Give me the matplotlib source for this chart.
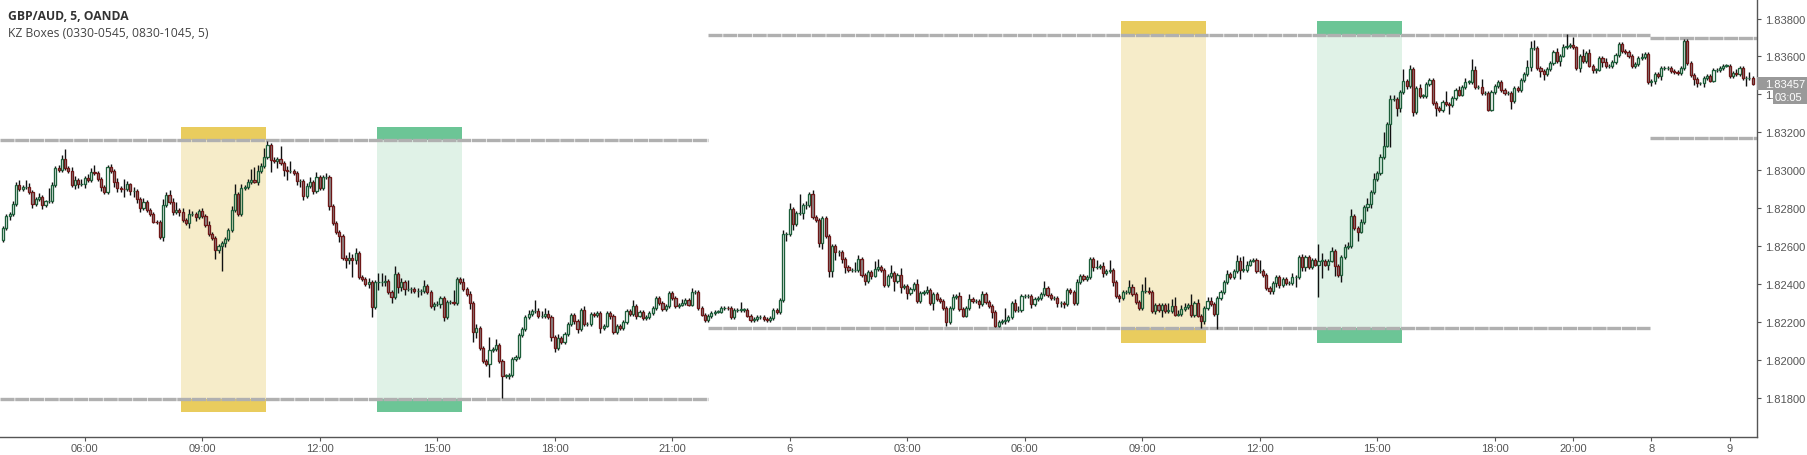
import matplotlib
matplotlib.use("Agg")
import matplotlib.pyplot as plt
from matplotlib.patches import Rectangle
import numpy as np

# ---------------- data (prices in pips above 1.80000) ----------------
first_open_pips = 263.2
close_pips = [
    269.4, 275.7, 277, 282, 292, 290, 291, 291, 288.5, 282,
    285, 286, 281.5, 283.5, 283.5, 292, 301, 300, 306, 301,
    299.5, 292, 295, 292.5, 292.5, 296, 295, 299, 298.5, 295.5,
    291, 288.7, 301.5, 299.5, 294, 290.5, 290.3, 290, 292.5, 289,
    289, 284.7, 280, 283.3, 278.8, 276.7, 272.9, 272.5, 264.6, 281.7,
    286.7, 283.1, 278.1, 279.2, 277.8, 273.6, 272.3, 276.7, 276.7, 275.2,
    278.3, 275.7, 271, 266.2, 264.1, 258.1, 259.8, 261.4, 263.5, 268.6,
    279, 287.5, 276.7, 290.5, 291, 293.6, 294.7, 294, 299.6, 302,
    306.8, 313.3, 305.2, 304.9, 305.8, 303.7, 300, 299.6, 299.7, 298.4,
    294.2, 294.2, 286.2, 291.5, 293.6, 289.2, 296.3, 290.5, 296.3, 296.3,
    281, 272, 267.2, 265.1, 253.5, 252.4, 253.9, 252.5, 256.1, 243.5,
    242.6, 239.8, 241, 227.7, 240.9, 241, 241, 241.7, 235.6, 232.9,
    245.3, 238.2, 241.2, 237.3, 237.3, 237.3, 236.1, 236.1, 236.1, 239,
    235.6, 228.2, 229.2, 229.2, 232.4, 222.4, 230.3, 230.6, 230.1, 242.4,
    241, 237.2, 234.5, 229.9, 214.5, 216.6, 206, 199.5, 197.7, 205.1,
    205.7, 208, 199.5, 191.6, 191.6, 192, 200.4, 201.3, 213, 216.2,
    222.4, 224.1, 225.5, 225.5, 222.9, 222.9, 224.1, 222.4, 211.8, 206,
    211.3, 209.2, 213.4, 218.9, 223.6, 220.6, 216.2, 226.2, 218.7, 218.7,
    224.1, 223.5, 224.5, 216.9, 218, 224.5, 223.3, 214.8, 218, 216.9,
    219.7, 225.7, 224, 228.5, 223.3, 225.4, 221.9, 222.4, 224.8, 227.3,
    232.7, 229.9, 226.8, 228.5, 235, 232.6, 228.5, 229.1, 229.9, 231.4,
    229.1, 235.8, 235.8, 227.1, 223.8, 221.1, 222.9, 224.5, 225.4, 225.4,
    227.1, 227.3, 227.1, 222.4, 226.3, 226.4, 226.4, 226.4, 223.3, 220.8,
    221.5, 222.4, 222.4, 221.5, 220.8, 222, 226.3, 225, 231.4, 266.4,
    266.4, 279.6, 271.5, 277.3, 277.3, 281.7, 281.7, 287.3, 275.2, 273.6,
    261.4, 274.8, 265.1, 246.7, 260, 256.7, 256.7, 253.2, 248.8, 247.4,
    247.4, 247.4, 253, 244.7, 241.4, 246.5, 244.4, 247.9, 249.1, 247.4,
    239.6, 244.2, 245.8, 241.4, 244.5, 238.2, 239.1, 235, 237.3, 239.8,
    231, 235, 235.6, 237, 230.1, 234.7, 232.1, 230.8, 227.1, 219.7,
    227.1, 232.9, 233.8, 226.8, 223.3, 227.1, 231.9, 230.8, 230.8, 229.2,
    234.5, 230.3, 228.5, 225, 218, 220.1, 220.6, 221.1, 222.4, 229.8,
    226.3, 226.3, 233.5, 233.5, 233.5, 229.4, 232.1, 232.4, 234.5, 237.7,
    234.2, 232.6, 232.6, 229.9, 229.9, 229.4, 237, 235.9, 230.1, 240.8,
    244.4, 242.4, 243.5, 253.2, 248.8, 248.8, 249.6, 245.8, 246.7, 247.5,
    240.9, 233.8, 232.4, 235.6, 235.6, 238.2, 234.7, 230.3, 227.3, 236.1,
    236.5, 235.9, 225.9, 228.9, 226.3, 229.1, 225.9, 225.9, 228.2, 223.8,
    224.1, 226.8, 227.8, 228.9, 223.6, 229.8, 223.3, 220.6, 227.1, 231,
    229.2, 224.1, 232.4, 235.9, 240.9, 245.3, 243.5, 247, 252.3, 247.5,
    247.5, 250.2, 252.3, 252.8, 246.7, 246.7, 244.9, 237.7, 236.5, 240.3,
    243.5, 239.6, 242.6, 240.3, 240.3, 243.5, 243.5, 254, 248.8, 254,
    248.8, 252.6, 250.2, 252.3, 252.3, 250.2, 252.3, 257.5, 249.3, 244.9,
    254, 259.3, 260.2, 275.7, 269.3, 267.6, 272.5, 280.4, 282.2, 288.3,
    295.4, 298.5, 306.8, 313, 324.4, 337.6, 337.6, 332.7, 341.1, 347.3,
    344.6, 353.4, 330.5, 343.4, 339.3, 339.3, 345.5, 347.6, 335.5, 332.7,
    331.8, 335.8, 335, 334.4, 338.1, 342.3, 339.9, 343.7, 346.7, 346.7,
    352.9, 343.7, 344, 340.6, 340.6, 332, 341.1, 344.6, 346.4, 342.3,
    340.7, 340.7, 336.3, 343.2, 342.5, 347.6, 350.8, 354.3, 364.3, 364.7,
    353.8, 352.2, 350.8, 353.4, 356.6, 362.6, 357.8, 360.5, 364.8, 365.7,
    366.1, 364.8, 353.8, 360.1, 357.8, 361.9, 355.2, 353.1, 353.1, 359,
    357.3, 354.8, 354.8, 356.9, 360.8, 366.6, 363.1, 362.2, 360.1, 354.8,
    356.1, 359, 359.6, 361.3, 346.4, 347.3, 350.8, 349.5, 353.8, 353.8,
    353.9, 352.5, 352, 351.3, 353.8, 368.4, 356.6, 350.4, 348.1, 345.8,
    345.8, 348.5, 349.5, 347.3, 352.9, 352.9, 353.8, 355.2, 355.2, 349.9,
    351.3, 350.5, 353.8, 348.5, 348.5, 348.8, 345.7,
]
wick_up_pips = [
    1,1,1,2,2,3,1,4,2,1, 1,2,1,1,7,2,1,2,2,5, 1,2,2,1,3,1,2,2,4,1,
    1,1,1,2,1,2,1,5,2,1, 2,1,1,2,1,1,1,1,1,3, 2,3,2,4,1,2,1,3,2,1,
    1,2,1,2,1,1,1,1,1,1, 2,5,1,2,1,2,6,7,3,2, 5,2,1,2,1,7,1,2,5,1,
    1,1,1,2,3,1,3,1,1,2, 1,1,1,1,1,2,3,2,3,1, 1,1,2,1,1,5,5,3,1,1,
    4,1,2,1,5,1,1,2,1,3, 1,1,1,2,1,1,1,1,6,1, 1,2,1,2,1,2,1,1,1,7,
    1,3,1,1,1,1,1,1,1,1, 1,2,1,6,2,3,3,2,1,1, 2,1,1,1,1,1,1,1,2,1,
    1,1,1,1,1,1,1,1,1,1, 1,1,1,3,1,1,1,1,1,1, 1,1,1,1,1,1,1,1,2,1,
    1,2,1,1,1,1,1,1,1,1, 1,1,1,1,1,1,4,1,1,1, 1,1,1,1,1,1,1,1,1,2,
    1,3,1,1,10,1,2,1,2,1, 1,1,1,1,1,1,1,1,1,1, 1,4,2,1,1,1,1,4,4,1,
    1,1,4,1,1,4,1,1,1,1, 3,1,1,2,1,1,1,1,1,1, 1,2,1,2,1,1,3,1,1,1,
    2,1,1,1,1,1,1,6,1,1, 2,2,1,1,1,1,1,1,1,4, 1,1,1,1,1,1,1,1,1,2,
    1,1,1,1,1,4,1,2,1,5, 1,1,1,1,1,4,2,1,1,4, 7,2,1,1,1,1,1,4,4,5,
    2,2,2,1,6,1,2,1,1,2, 2,1,1,1,1,2,1,1,3,2, 7,2,1,1,1,6,1,1,1,1,
    1,1,1,1,1,2,1,1,2,1, 1,1,1,9,4,1,1,2,1,1, 1,2,2,4,1,1,2,1,3,1,
    3,1,2,7,1,2,2,1,1,6, 1,2,1,1,2,1,1,1,1,1, 1,1,6,1,1,1,2,1,2,1,
    6,2,1,4,1,1,1,1,1,1, 1,1,1,1,1,1,1,4,4,4, 1,1,1,1,1,1,2,1,2,6,
    1,4,1,1,4,1,2,1,1,1, 1,2,1,1,1,1,1,1,1,1, 1,1,2,1,1,1,1,1,1,1,
    1,1,1,1,1,1,1,1,1,1, 1,1,1,1,1,1,1,1,1,1, 1,2,1,1,1,3,1,
]
wick_dn_pips = [
    1,1,2,1,1,1,1,1,1,2, 1,1,2,1,1,1,1,1,1,1, 1,1,2,2,1,2,1,1,1,1,
    2,1,1,1,3,2,2,4,1,2, 3,2,2,1,1,1,1,1,1,2, 1,1,2,1,2,1,1,3,1,2,
    1,1,1,1,1,5,2,13,2,1, 1,1,1,1,1,1,1,1,2,1, 1,1,6,1,4,1,3,5,1,1,
    2,3,2,1,1,2,1,1,1,1, 2,1,1,3,1,4,2,9,2,1, 1,1,2,5,1,4,2,2,1,3,
    1,3,2,3,1,2,1,3,2,1, 1,1,2,1,2,2,1,1,1,1, 1,1,1,3,5,3,1,1,1,7,
    1,1,1,12,1,2,1,1,1,1, 1,1,1,1,1,1,1,1,2,2, 1,1,1,1,1,2,2,1,1,1,
    1,1,1,3,1,1,2,1,1,1, 1,1,1,1,2,1,1,1,1,1, 1,1,1,1,1,1,1,1,1,1,
    1,1,1,1,1,1,1,1,1,1, 1,1,1,1,1,1,1,1,1,1, 1,1,1,1,1,1,1,1,1,1,
    4,1,3,1,1,3,2,1,1,1, 2,3,1,3,3,4,2,2,3,1, 1,1,1,1,2,1,2,1,1,1,
    1,1,1,5,1,3,1,3,1,1, 1,1,1,1,1,4,1,1,1,2, 1,1,1,1,1,1,1,1,1,2,
    1,1,1,3,1,1,1,2,1,1, 1,1,1,1,1,2,1,1,1,1, 1,1,1,2,2,2,1,1,1,1,
    1,1,1,1,2,1,1,2,1,1, 2,1,2,1,1,1,1,1,1,1, 1,1,1,2,1,4,1,1,1,1,
    1,1,1,1,1,1,1,4,2,1, 1,1,8,1,1,1,1,1,1,5, 1,1,1,1,1,1,1,1,2,2,
    2,2,1,1,1,1,5,1,2,2, 1,1,1,17,9,1,3,1,5,1, 4,1,1,1,1,5,1,1,2,2,
    1,1,1,1,1,12,1,4,2,1, 2,1,2,1,1,1,1,1,1,4, 1,1,1,5,1,1,1,1,1,1,
    1,1,1,1,1,1,1,1,1,1, 1,1,4,1,1,1,1,1,2,1, 1,3,3,1,1,1,1,3,1,1,
    1,1,1,2,1,1,1,2,2,1, 3,1,1,1,1,1,1,1,1,1, 1,1,1,1,1,2,2,1,2,1,
    1,1,1,1,1,1,1,1,3,2, 1,2,1,1,1,1,1,1,1,1, 1,1,1,1,4,1,1,
]

x_tick_pos = [25, 61, 97, 133, 169, 205, 241, 277, 313, 349, 385, 421, 457, 481, 505, 529]
x_tick_labels = ["06:00", "09:00", "12:00", "15:00", "18:00", "21:00", "6", "03:00",
                 "06:00", "09:00", "12:00", "15:00", "18:00", "20:00", "8", "9"]
price_ticks = [1.818, 1.820, 1.822, 1.824, 1.826, 1.828, 1.830, 1.832, 1.834, 1.836, 1.838]

# session high/low lines: (start bar, end bar, high, low)
session_lines = [
    (-1.0, 216.0, 1.83158, 1.81791),
    (216.0, 504.5, 1.83715, 1.82169),
    (504.5, 538.0, 1.83696, 1.83168),
]
# kill-zone boxes: (first bar edge, last bar edge, outer top, high, low, outer bottom, kind)
kz_boxes = [
    (54.5, 80.5, 1.83226, 1.83158, 1.81791, 1.81722, "asia"),
    (114.5, 140.5, 1.83226, 1.83158, 1.81791, 1.81722, "ny"),
    (342.5, 368.5, 1.83787, 1.83715, 1.82169, 1.82087, "asia"),
    (402.5, 428.5, 1.83787, 1.83715, 1.82169, 1.82087, "ny"),
]
last_price = 1.83457
countdown = "03:05"

# ---------------- build OHLC ----------------
closes = 1.8 + np.array(close_pips) / 1e4
opens = np.r_[1.8 + first_open_pips / 1e4, closes[:-1]]
body_top = np.maximum(opens, closes)
body_bot = np.minimum(opens, closes)
highs = body_top + np.array(wick_up_pips) / 1e4
lows = body_bot - np.array(wick_dn_pips) / 1e4
xs = np.arange(len(closes))
up = closes >= opens

# ---------------- figure ----------------
W, H = 1808, 456
fig = plt.figure(figsize=(W / 100, H / 100), dpi=100)
fig.patch.set_facecolor("white")
ax = fig.add_axes([0, 18 / H, 1757 / W, 438 / H])
ax.set_facecolor("white")
ax.set_xlim(-0.95, 537.35)
ax.set_ylim(1.815921, 1.839034)

colors = {"asia": ("#F6ECC9", "#E9CC5E"), "ny": ("#E0F2E7", "#6CC596")}
for x0, x1, top, hi, lo, bot, kind in kz_boxes:
    light, dark = colors[kind]
    cx, w = (x0 + x1) / 2, x1 - x0
    ax.bar(cx, hi - lo, bottom=lo, width=w, color=light, linewidth=0, zorder=1)
    ax.bar(cx, top - hi, bottom=hi, width=w, color=dark, linewidth=0, zorder=1)
    ax.bar(cx, lo - bot, bottom=bot, width=w, color=dark, linewidth=0, zorder=1)

for xa, xb, hi, lo in session_lines:
    for yv in (hi, lo):
        ax.plot([xa, xb], [yv, yv], color="#B0B0B0", lw=2.4,
                dashes=(4.2, 0.22), solid_capstyle="butt", zorder=2)

# wicks
ax.vlines(xs, body_top, highs, color="#111111", lw=1.0, zorder=3)
ax.vlines(xs, lows, body_bot, color="#111111", lw=1.0, zorder=3)
# bodies
heights = np.maximum(body_top - body_bot, 0.000015)
ax.bar(xs[up], heights[up], bottom=body_bot[up], width=0.66, facecolor="none",
       edgecolor="#1D5E3A", linewidth=0.95, zorder=4)
ax.bar(xs[~up], heights[~up], bottom=body_bot[~up], width=0.66, facecolor="#8C8C8C",
       edgecolor="#6E1717", linewidth=0.95, zorder=4)

# axes styling
for s in ("top", "left"):
    ax.spines[s].set_visible(False)
for s in ("right", "bottom"):
    ax.spines[s].set_color("#555555")
    ax.spines[s].set_linewidth(1.0)
ax.yaxis.tick_right()
ax.set_yticks(price_ticks)
ax.set_yticklabels([f"{p:.5f}" for p in price_ticks])
ax.set_xticks(x_tick_pos)
ax.set_xticklabels(x_tick_labels)
ax.tick_params(axis="y", direction="out", length=3, width=0.8, color="#555555",
               pad=3, labelsize=8, labelcolor="#555555")
ax.tick_params(axis="x", direction="out", length=3, width=0.8, color="#555555",
               pad=1.5, labelsize=8, labelcolor="#555555")
for lab in ax.get_xticklabels() + ax.get_yticklabels():
    lab.set_family("Liberation Sans")

# last price tag and countdown
yf = ax.transData.transform((0, last_price))[1]
tag_h = 13.5
fig.add_artist(Rectangle((1757 / W, (yf - tag_h / 2) / H), 51 / W, tag_h / H,
                         transform=fig.transFigure, facecolor="#999999",
                         edgecolor="none", zorder=10))
fig.text(1765 / W, yf / H, f"{last_price:.5f}", color="white", fontsize=8,
         family="Liberation Sans", va="center", ha="left", zorder=11)
fig.add_artist(Rectangle((1773 / W, (yf - tag_h / 2 - 14) / H), 35 / W, 14 / H,
                         transform=fig.transFigure, facecolor="#999999",
                         edgecolor="none", zorder=10))
fig.text(1802 / W, (yf - tag_h / 2 - 7) / H, countdown, color="white", fontsize=8,
         family="Liberation Sans", va="center", ha="right", zorder=11)

# header
fig.text(8 / W, 1 - 16.7 / H, "GBP/AUD, 5, OANDA", fontsize=8.7, fontweight="bold",
         family="Open Sans", color="#333333", va="center", ha="left")
fig.text(8 / W, 1 - 33.3 / H, "KZ Boxes (0330-0545, 0830-1045, 5)", fontsize=8.7,
         family="Open Sans", color="#444444", va="center", ha="left")

fig.savefig("out.png", dpi=100, facecolor="white")
